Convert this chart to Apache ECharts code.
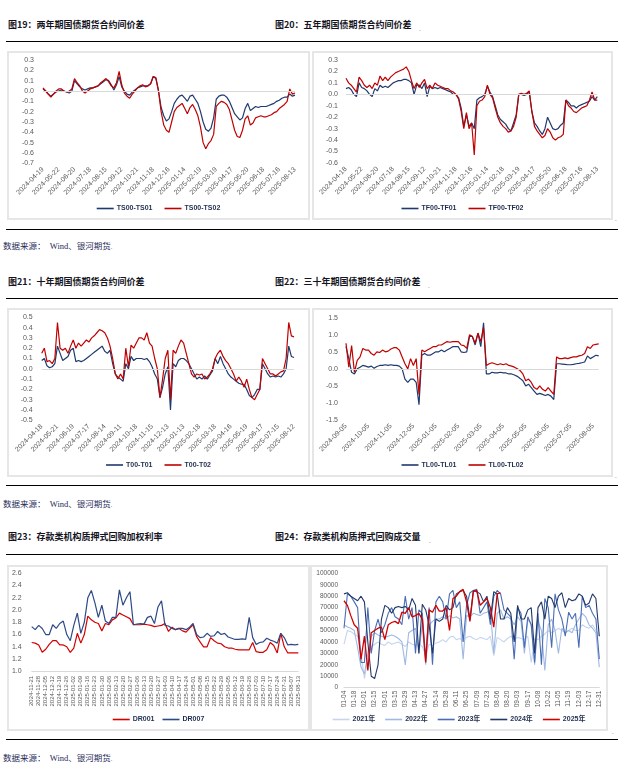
<!DOCTYPE html>
<html><head><meta charset="utf-8">
<script src="https://cdn.jsdelivr.net/npm/echarts/dist/echarts.min.js"></script>
<style>
html,body{margin:0;padding:0;background:#fff;}
body{width:621px;height:777px;position:relative;overflow:hidden;font-family:"Noto Sans CJK SC",sans-serif;}
.t{position:absolute;font-size:9px;font-weight:700;color:#14141e;white-space:nowrap;line-height:10px;}
.rule{position:absolute;left:6px;width:612px;height:1.4px;background:#000;}
.src{position:absolute;left:3px;font-size:8.5px;color:#1f2a5a;white-space:nowrap;line-height:10px;font-family:"Liberation Serif","Noto Sans CJK SC",serif;}
.box{position:absolute;border:2px solid #e6e6e6;box-sizing:border-box;}
.ch{position:absolute;}
.pm{position:absolute;font-size:6px;color:#666;line-height:6px;}
</style>
</head><body>

<div class="t" style="left:8px;top:20px;">图19：两年期国债期货合约间价差</div>
<div class="t" style="left:275px;top:20px;">图20：五年期国债期货合约间价差</div>
<span class="pm" style="left:419px;top:26px;">.</span>
<div class="rule" style="top:41px;"></div>
<div class="box" style="left:7px;top:51px;width:303px;height:169px;"></div>
<div class="box" style="left:312px;top:51px;width:301px;height:169px;"></div>
<div id="c19" class="ch" style="left:7px;top:51px;width:303px;height:169px;"></div>
<div id="c20" class="ch" style="left:312px;top:51px;width:301px;height:169px;"></div>
<span class="pm" style="left:615px;top:216px;">.</span>
<div class="rule" style="top:229px;"></div>
<div class="src" style="top:241px;">数据来源：&nbsp; Wind、银河期货<span style="font-size:6px;color:#666;">.</span></div>

<div class="t" style="left:8px;top:277px;">图21：十年期国债期货合约间价差</div>
<div class="t" style="left:275px;top:277px;">图22：三十年期国债期货合约间价差</div>
<span class="pm" style="left:428px;top:283px;">.</span>
<div class="rule" style="top:298px;"></div>
<div class="box" style="left:7px;top:308px;width:303px;height:169px;"></div>
<div class="box" style="left:312px;top:308px;width:301px;height:169px;"></div>
<div id="c21" class="ch" style="left:7px;top:308px;width:303px;height:169px;"></div>
<div id="c22" class="ch" style="left:312px;top:308px;width:301px;height:169px;"></div>
<span class="pm" style="left:615px;top:473px;">.</span>
<div class="rule" style="top:485px;"></div>
<div class="src" style="top:499px;">数据来源：&nbsp; Wind、银河期货<span style="font-size:6px;color:#666;">.</span></div>

<div class="t" style="left:8px;top:532px;">图23：存款类机构质押式回购加权利率</div>
<div class="t" style="left:275px;top:532px;">图24：存款类机构质押式回购成交量</div>
<span class="pm" style="left:429px;top:538px;">.</span>
<div class="rule" style="top:554px;"></div>
<div class="box" style="left:7px;top:565px;width:303px;height:166px;"></div>
<div class="box" style="left:310px;top:565px;width:298px;height:166px;"></div>
<div id="c23" class="ch" style="left:7px;top:565px;width:303px;height:166px;"></div>
<div id="c24" class="ch" style="left:310px;top:565px;width:298px;height:166px;"></div>
<span class="pm" style="left:612px;top:729px;">.</span>
<div class="rule" style="top:739px;"></div>
<div class="src" style="top:753px;">数据来源：&nbsp; Wind、银河期货<span style="font-size:6px;color:#666;">.</span></div>

<script>
// ---------- tick labels ----------
const ticks19 = ['2024-04-19','2024-05-22','2024-06-20','2024-07-18','2024-08-15','2024-09-12','2024-10-21','2024-11-18','2024-12-16','2025-01-14','2025-02-19','2025-03-19','2025-04-17','2025-05-20','2025-06-18','2025-07-16','2025-08-13'];
const ticks20 = ['2024-04-18','2024-05-22','2024-06-20','2024-07-18','2024-08-15','2024-09-12','2024-10-21','2024-11-18','2024-12-16','2025-01-14','2025-02-18','2025-03-19','2025-04-17','2025-05-20','2025-06-18','2025-07-16','2025-08-13'];
const ticks21 = ['2024-04-18','2024-05-21','2024-06-19','2024-07-17','2024-08-14','2024-09-11','2024-10-18','2024-11-15','2024-12-13','2025-01-13','2025-02-18','2025-03-18','2025-04-16','2025-05-19','2025-06-17','2025-07-15','2025-08-12'];
const ticks22 = ['2024-09-05','2024-10-05','2024-11-05','2024-12-05','2025-01-05','2025-02-05','2025-03-05','2025-04-05','2025-05-05','2025-06-05','2025-07-05','2025-08-05'];
const ticks23 = ['2024-11-21','2024-11-28','2024-12-05','2024-12-12','2024-12-19','2024-12-26','2025-01-02','2025-01-09','2025-01-16','2025-01-23','2025-01-30','2025-02-06','2025-02-13','2025-02-20','2025-02-27','2025-03-06','2025-03-13','2025-03-20','2025-03-27','2025-04-03','2025-04-10','2025-04-17','2025-04-24','2025-05-01','2025-05-08','2025-05-15','2025-05-22','2025-05-29','2025-06-05','2025-06-12','2025-06-19','2025-06-26','2025-07-03','2025-07-10','2025-07-17','2025-07-24','2025-07-31','2025-08-07','2025-08-13'];
const ticks24 = ['01-04','01-18','02-01','02-15','03-01','03-15','03-29','04-13','04-27','05-14','05-28','06-11','06-25','07-09','07-23','08-06','08-20','09-03','09-17','10-08','10-22','11-05','11-19','12-03','12-17','12-31'];

// ---------- series values ----------
const ts0001 = [0.02,0.00,-0.03,-0.05,-0.03,-0.01, 0.00,0.01,0.00,-0.01,-0.02,0.00, 0.10,0.07,0.04,0.02,0.01,0.02, 0.03,0.03,0.04,0.05,0.07,0.09, 0.11,0.10,0.06,0.01,0.06,0.14, 0.04,0.00,-0.03,-0.04,-0.01,0.01, 0.03,0.04,0.05,0.05,0.05,0.07, 0.14,0.12,0.00,-0.16,-0.24,-0.29, -0.27,-0.20,-0.12,-0.08,-0.05,-0.04, -0.07,-0.10,-0.05,-0.04,-0.08,-0.12, -0.20,-0.30,-0.37,-0.39,-0.36,-0.26, -0.08,-0.05,-0.04,-0.04,-0.06,-0.10, -0.16,-0.22,-0.25,-0.28,-0.26,-0.17, -0.12,-0.19,-0.17,-0.15,-0.16,-0.15, -0.15,-0.15,-0.14,-0.13,-0.12,-0.10, -0.09,-0.07,-0.06,-0.06,-0.03,-0.05, -0.04];
const ts0002 = [0.03,0.00,-0.03,-0.06,-0.03,0.00, 0.02,0.02,0.00,-0.01,0.00,0.02, 0.12,0.08,0.05,0.00,-0.02,0.00, 0.02,0.03,0.04,0.05,0.08,0.10, 0.12,0.09,0.05,0.03,0.08,0.19, 0.06,-0.02,-0.05,-0.07,-0.03,0.00, 0.03,0.05,0.06,0.04,0.05,0.07, 0.14,0.13,0.00,-0.20,-0.33,-0.38, -0.40,-0.30,-0.20,-0.16,-0.14,-0.12, -0.17,-0.22,-0.16,-0.13,-0.18,-0.24, -0.35,-0.50,-0.56,-0.51,-0.48,-0.42, -0.15,-0.12,-0.10,-0.11,-0.13,-0.18, -0.28,-0.38,-0.44,-0.45,-0.38,-0.27, -0.24,-0.33,-0.31,-0.26,-0.25,-0.24, -0.25,-0.25,-0.24,-0.23,-0.21,-0.20, -0.17,-0.15,-0.13,-0.10,0.02,-0.03, -0.02];

const tf0001 = [0.05,0.06,0.04,0.00,-0.02,0.10, 0.06,0.05,0.03,0.00,-0.02,0.05, 0.03,0.08,0.06,0.07,0.06,0.08, 0.10,0.11,0.12,0.12,0.13,0.13, 0.12,0.10,0.00,0.08,0.08,0.05, 0.10,-0.02,0.07,0.05,0.06,0.05, 0.06,0.05,0.04,0.03,0.02,0.00, 0.00,-0.03,-0.12,-0.28,-0.18,-0.28, -0.25,-0.30,-0.05,-0.03,-0.02,0.00, 0.07,0.02,-0.02,-0.10,-0.18,-0.22, -0.24,-0.26,-0.30,-0.32,-0.25,-0.18, 0.00,0.00,-0.01,0.00,0.02,-0.15, -0.25,-0.28,-0.32,-0.35,-0.30,-0.20, -0.25,-0.30,-0.31,-0.30,-0.27,-0.25, -0.05,-0.07,-0.10,-0.10,-0.12,-0.10, -0.09,-0.08,-0.07,-0.06,-0.02,-0.05, -0.02];
const tf0002 = [0.14,0.10,0.08,0.05,0.02,0.15, 0.12,0.08,0.06,0.08,0.05,0.10, 0.08,0.16,0.12,0.15,0.12,0.15, 0.17,0.19,0.20,0.21,0.22,0.24, 0.20,0.12,0.05,0.10,0.06,0.10, 0.13,0.05,0.08,0.05,0.10,0.08, 0.07,0.06,0.05,0.05,0.03,0.02, 0.00,-0.04,-0.15,-0.30,-0.16,-0.30, -0.25,-0.53,-0.10,-0.06,-0.05,-0.02, 0.08,0.00,-0.03,-0.12,-0.20,-0.25, -0.28,-0.30,-0.33,-0.32,-0.28,-0.20, 0.00,0.01,0.00,0.01,0.03,-0.15, -0.28,-0.32,-0.35,-0.38,-0.36,-0.30, -0.33,-0.38,-0.40,-0.38,-0.37,-0.35, -0.05,-0.10,-0.12,-0.15,-0.16,-0.14, -0.12,-0.11,-0.10,-0.05,0.02,-0.05, -0.05];

const t0001 = [0.08,0.10,0.03,0.01,0.02,0.05, 0.22,0.15,0.08,0.10,0.12,0.18, 0.20,0.07,0.08,0.07,0.08,0.10, 0.12,0.14,0.16,0.18,0.20,0.22, 0.17,0.15,0.18,0.05,-0.05,-0.08, -0.10,-0.12,0.05,0.00,0.12,0.08, 0.10,0.10,0.10,0.09,0.10,0.07, 0.02,-0.05,-0.10,-0.28,-0.18,-0.05, 0.02,-0.40,0.05,0.02,0.08,0.10, 0.10,0.08,0.05,0.00,-0.05,-0.10, -0.08,-0.10,-0.07,-0.10,-0.06,-0.02, 0.10,0.05,0.12,0.05,0.00,-0.05, -0.08,-0.10,-0.12,-0.14,-0.15,-0.15, -0.20,-0.26,-0.28,-0.25,-0.20,-0.20, 0.05,0.00,-0.05,-0.08,-0.07,-0.08, -0.07,-0.08,-0.05,0.00,0.22,0.12, 0.11];
const t0002 = [0.15,0.20,0.07,0.08,0.05,0.10, 0.45,0.20,0.18,0.20,0.15,0.22, 0.28,0.20,0.25,0.22,0.25,0.28, 0.26,0.30,0.32,0.35,0.38,0.37, 0.35,0.30,0.22,0.10,-0.05,-0.10, -0.05,-0.10,0.20,0.02,0.23,0.20, 0.25,0.30,0.30,0.28,0.35,0.25, 0.22,0.10,0.00,-0.28,-0.10,0.10, 0.18,-0.30,0.18,0.15,0.22,0.28, 0.25,0.15,0.05,-0.05,-0.08,-0.05, -0.06,-0.05,-0.10,-0.08,-0.05,0.00, 0.10,0.15,0.18,0.12,0.08,0.05, 0.00,-0.05,-0.12,-0.08,-0.12,-0.18, -0.10,-0.20,-0.28,-0.30,-0.25,-0.20, 0.10,0.05,0.00,-0.05,-0.05,-0.07, -0.05,-0.03,-0.02,0.10,0.45,0.32, 0.31];

const tl0001 = [0.65,0.30,-0.10,-0.15,0.00,0.05,0.10,0.08, 0.05,0.08,0.02,0.07,0.10,0.10,0.12,0.10, 0.12,0.10,0.10,0.08,0.00,-0.30,-0.40,-0.30, -0.30,-0.40,-1.05,0.40,0.45,0.40,0.40,0.45, 0.50,0.50,0.55,0.50,0.55,0.60,0.65,0.65, 0.65,0.50,0.48,0.50,0.95,0.95,0.70,1.05, 0.65,1.35,-0.15,-0.15,-0.10,-0.12,-0.12,-0.10, -0.12,-0.12,-0.15,-0.15,-0.18,-0.22,-0.28,-0.35, -0.50,-0.45,-0.55,-0.65,-0.75,-0.72,-0.75,-0.78, -0.75,-0.80,-0.90,0.15,0.15,0.14,0.13,0.12, 0.12,0.13,0.15,0.16,0.18,0.20,0.38,0.30, 0.35,0.40,0.38];
const tl0002 = [0.75,0.05,0.68,-0.10,0.25,0.35,0.60,0.55, 0.55,0.45,0.40,0.50,0.48,0.55,0.50,0.52, 0.58,0.62,0.62,0.55,0.35,0.15,0.00,0.30, 0.10,0.30,-0.75,0.55,0.50,0.55,0.60,0.65, 0.65,0.70,0.70,0.75,0.80,0.78,0.80,0.80, 0.80,0.70,0.68,0.60,1.00,0.95,0.75,1.05, 0.80,1.20,0.10,0.15,0.18,0.15,0.12,0.15, 0.12,0.15,0.10,0.08,0.05,0.00,-0.05,-0.15, -0.35,-0.30,-0.40,-0.55,-0.60,-0.50,-0.60,-0.65, -0.55,-0.65,-0.75,0.35,0.30,0.30,0.32,0.30, 0.33,0.35,0.35,0.38,0.40,0.45,0.65,0.60, 0.70,0.72,0.73];

const dr001 = [1.47,1.46,1.43,1.31,1.36,1.44,1.50,1.50,1.43,1.43, 1.40,1.31,1.38,1.62,1.46,1.60,1.90,1.84,1.80,1.78, 1.66,1.78,1.76,1.84,1.87,1.95,1.92,1.89,1.86,1.76, 1.76,1.76,1.77,1.76,1.75,1.73,1.74,1.75,1.78,1.65, 1.72,1.68,1.70,1.66,1.64,1.70,1.76,1.57,1.48,1.40, 1.40,1.55,1.50,1.46,1.45,1.40,1.38,1.38,1.36,1.35, 1.35,1.35,1.35,1.47,1.32,1.31,1.31,1.35,1.47,1.42, 1.30,1.62,1.40,1.30,1.30,1.30,1.30];
const dr007 = [1.73,1.68,1.75,1.70,1.60,1.60,1.76,1.70,1.78,1.82, 1.60,1.50,1.75,1.95,1.62,1.80,2.20,2.32,2.12,1.88, 2.08,1.82,1.78,1.88,1.88,2.33,2.08,2.20,2.30,1.76, 1.77,1.78,1.77,1.88,1.90,1.78,2.05,2.15,1.75,1.74, 1.70,1.68,1.70,1.70,1.68,1.72,1.78,1.60,1.55,1.56, 1.62,1.57,1.58,1.65,1.60,1.62,1.56,1.54,1.52,1.52, 1.53,1.52,1.88,1.55,1.44,1.47,1.48,1.54,1.51,1.49, 1.46,1.62,1.55,1.43,1.44,1.43,1.44];

const vol2021 = [38000,50000,49000, 47000,45000,30000, 8000,25000,35000, 38000,40000,38000, 37000,40000,38000, 39000,40000,38000, 36000,40000,38000, 37000,39000,36000, 28000,38000,37000, 39000,40000,42000, 40000,44000,45000, 42000,43000,41000, 44000,45000,43000, 42000,44000,43000, 42000,45000,28000, 44000,42000,40000, 43000,45000,42000, 44000,43000,42000, 45000,22000,43000, 42000,45000,47000, 50000,48000,50000, 52000,50000,48000, 50000,52000,50000, 50000,55000,53000, 52000,55000,50000, 45000];
const vol2022 = [55000,53000,52000, 50000,35000,18000, 12000,30000,45000, 48000,46000,45000, 44000,45000,46000, 45000,43000,40000, 20000,48000,50000, 52000,30000,55000, 20000,55000,58000, 60000,60000,62000, 60000,63000,61000, 62000,60000,25000, 63000,62000,65000, 64000,63000,65000, 66000,68000,30000, 65000,68000,60000, 62000,60000,55000, 62000,58000,30000, 60000,55000,20000, 58000,50000,15000, 55000,60000,50000, 30000,52000,48000, 50000,48000,55000, 60000,65000,62000, 55000,52000,48000, 18000];
const vol2023 = [52000,82000,80000, 75000,70000,22000, 22000,70000,30000, 50000,60000,48000, 55000,65000,70000, 62000,60000,55000, 80000,60000,70000, 30000,68000,65000, 25000,70000,20000, 75000,80000,75000, 60000,82000,85000, 70000,75000,40000, 72000,83000,85000, 86000,65000,70000, 75000,55000,80000, 85000,82000,68000, 65000,62000,25000, 70000,65000,35000, 62000,55000,22000, 65000,20000,78000, 70000,35000,82000, 68000,60000,45000, 66000,60000,65000, 35000,80000,70000, 72000,65000,60000, 25000];
const vol2024 = [82000,83000,80000, 78000,76000,80000, 75000,40000,10000, 8000,20000,60000, 72000,70000,65000, 70000,71000,70000, 71000,68000,78000, 72000,30000,73000, 68000,55000,30000, 60000,58000,60000, 72000,68000,70000, 82000,84000,85000, 80000,60000,85000, 84000,82000,75000, 80000,60000,84000, 82000,60000,60000, 70000,65000,40000, 72000,60000,60000, 68000,70000,30000, 70000,75000,60000, 80000,78000,70000, 80000,83000,70000, 78000,76000,77000, 82000,80000,72000, 74000,82000,78000, 45000];
const vol2025 = [76000,72000,63000, 55000,52000,25000, 45000,15000,48000, 50000,52000,53000, 42000,55000,57000, 58000,56000,66000, 65000,70000,62000, 63000,65000,60000, 22000,68000,66000, 72000,67000,67000, 70000,50000,78000, 80000,84000,86000, 75000,58000,84000, 85000,72000,75000, 78000,70000,53000, 82000,83000];

// ---------- helpers ----------
const FONT = '"Liberation Sans", Arial, "Noto Sans CJK SC", sans-serif';
const BLUE = '#1f3a6e', RED = '#c00000';
function fmtDate(ms){ return new Date(ms).toISOString().slice(0,10); }
// category list: each tick label followed by (n-1) in-between dates
function expand(ticks, n, extra, prefix){
  const p = prefix || '';
  const d = ticks.map(t => Date.parse(p + t + 'T00:00:00Z'));
  const strip = s => p ? s.slice(5) : s;
  const out = [];
  for (let i = 0; i < ticks.length; i++){
    out.push(ticks[i]);
    if (i < ticks.length - 1){
      for (let j = 1; j < n; j++) out.push(strip(fmtDate(Math.round(d[i] + (d[i+1]-d[i])*j/n))));
    }
  }
  const last = d[d.length-1], step = (d[d.length-1]-d[d.length-2])/n;
  for (let j = 1; j <= (extra||0); j++) out.push(strip(fmtDate(Math.round(last + step*j))));
  return out;
}
function dec1(v){ return Math.abs(v) < 1e-9 ? '0.0' : v.toFixed(1); }

function makeChart(id, c){
  const ch = echarts.init(document.getElementById(id));
  const series = c.series.map((s, idx) => {
    const o = {name:s.name, type:'line', data:s.data, symbol:'none', showSymbol:false,
      lineStyle:{color:s.color, width:s.width||1.2}, itemStyle:{color:s.color}, z:2+idx, animation:false};
    if (idx === 0 && c.zeroLine){
      o.markLine = {silent:true, symbol:'none', animation:false, label:{show:false},
        lineStyle:{color:'#d9d9d9', type:'solid', width:1}, data:[{yAxis:0}]};
    }
    return o;
  });
  ch.setOption({
    animation:false,
    textStyle:{fontFamily:FONT},
    grid:{left:c.grid[0], right:c.grid[1], top:c.grid[2], bottom:c.grid[3], containLabel:false, outerBoundsMode:'none'},
    legend:{show:true, top:c.legendTop, left:'center', orient:'horizontal', icon:'rect', itemWidth:17, itemHeight:1.6,
      itemGap:c.legendGap, padding:0, selectedMode:false,
      textStyle:{fontSize:7, fontWeight:'bold', color:'#1f2d4f', fontFamily:FONT, padding:[0,0,0,-2]},
      data:c.series.map(s => s.name)},
    xAxis:{type:'category', boundaryGap:false, data:c.cats,
      axisLine:{show:!!c.xLine, onZero:false, lineStyle:{color:'#d9d9d9', width:1}},
      axisTick:{show:false}, splitLine:{show:false},
      axisLabel:{interval:c.labelInterval, rotate:c.rotate, fontSize:c.xFont, color:'#595959', margin:c.xMargin, fontFamily:FONT, hideOverlap:false}},
    yAxis:{type:'value', min:c.min, max:c.max, interval:c.interval,
      axisLine:{show:false}, axisTick:{show:false}, splitLine:{show:false},
      axisLabel:{fontSize:c.yFont||7, color:'#595959', margin:c.yMargin, formatter:c.yFmt, fontFamily:FONT}},
    series:series
  });
}

makeChart('c19', {cats:expand(ticks19,6), labelInterval:5, rotate:45, xFont:7, xMargin:5,
  grid:[36,15,9,56.7], min:-0.7, max:0.3, interval:0.1, yMargin:9, yFmt:dec1, zeroLine:true,
  legendTop:154, legendGap:12,
  series:[{name:'TS00-TS01', data:ts0001, color:BLUE},{name:'TS00-TS02', data:ts0002, color:RED}]});

makeChart('c20', {cats:expand(ticks20,6), labelInterval:5, rotate:45, xFont:7, xMargin:5,
  grid:[34,15.7,9,57], min:-0.6, max:0.3, interval:0.1, yMargin:8, yFmt:dec1, zeroLine:true,
  legendTop:154, legendGap:12,
  series:[{name:'TF00-TF01', data:tf0001, color:BLUE},{name:'TF00-TF02', data:tf0002, color:RED}]});

makeChart('c21', {cats:expand(ticks21,6), labelInterval:5, rotate:45, xFont:7, xMargin:5,
  grid:[34.7,16,9.3,56.7], min:-0.5, max:0.5, interval:0.1, yMargin:9, yFmt:dec1, zeroLine:true,
  legendTop:153.5, legendGap:12,
  series:[{name:'T00-T01', data:t0001, color:BLUE},{name:'T00-T02', data:t0002, color:RED}]});

makeChart('c22', {cats:expand(ticks22,8,2), labelInterval:7, rotate:45, xFont:7, xMargin:5,
  grid:[34,14.3,9.7,57], min:-1.5, max:1.5, interval:0.5, yMargin:8, yFmt:dec1, zeroLine:true,
  legendTop:153.5, legendGap:12,
  series:[{name:'TL00-TL01', data:tl0001, color:BLUE},{name:'TL00-TL02', data:tl0002, color:RED}]});

makeChart('c23', {cats:expand(ticks23,2), labelInterval:1, rotate:90, xFont:6, xMargin:4.5, xLine:true,
  grid:[24.7,11.7,8.3,59.7], min:1.0, max:2.6, interval:0.2, yMargin:10, yFmt:dec1,
  legendTop:151, legendGap:8,
  series:[{name:'DR001', data:dr001, color:'#d40000'},{name:'DR007', data:dr007, color:'#2e4a86'}]});

makeChart('c24', {cats:expand(ticks24,3,0,'2024-'), labelInterval:2, rotate:90, xFont:6.5, xMargin:3, xLine:true,
  grid:[34,8.7,8.3,43.3], min:0, max:100000, interval:10000, yMargin:6, yFont:6.5, yFmt:v => String(v),
  legendTop:151, legendGap:10,
  series:[{name:'2021年', data:vol2021, color:'#c5d5ef', width:1.1},
          {name:'2022年', data:vol2022, color:'#9fb9e3', width:1.1},
          {name:'2023年', data:vol2023, color:'#4a6db4', width:1.1},
          {name:'2024年', data:vol2024, color:'#22386b', width:1.1},
          {name:'2025年', data:vol2025, color:'#d00000', width:1.3}]});
</script>
</body></html>
